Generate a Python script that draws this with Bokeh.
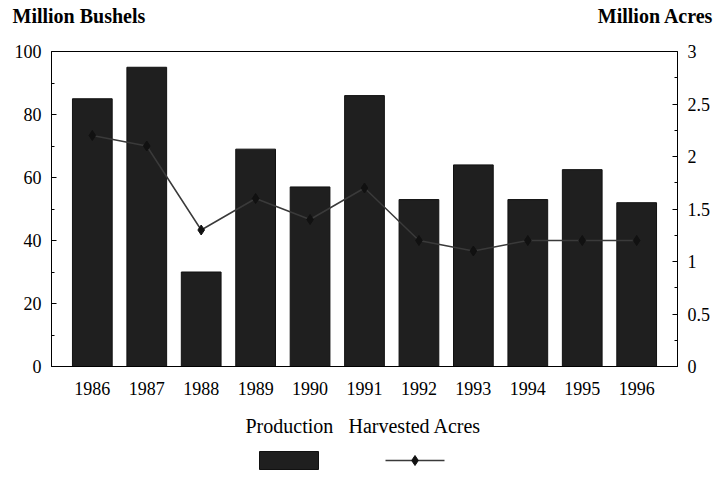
from bokeh.plotting import figure
from bokeh.models import (Range1d, LinearAxis, FixedTicker, ColumnDataSource)
from bokeh.layouts import column
from bokeh.embed import file_html
from bokeh.resources import INLINE
from bokeh.core.properties import value

years = [1986, 1987, 1988, 1989, 1990, 1991, 1992, 1993, 1994, 1995, 1996]
production = [85, 95, 30, 69, 57, 86, 53, 64, 53, 62.5, 52]          # million bushels
harvested_acres = [2.2, 2.1, 1.3, 1.6, 1.4, 1.7, 1.2, 1.1, 1.2, 1.2, 1.2]  # million acres

left_ticks = [0, 20, 40, 60, 80, 100]
left_minor = [10, 30, 50, 70, 90]
right_ticks = [0, 0.5, 1, 1.5, 2, 2.5, 3]
right_tick_labels = ["0", "0.5", "1", "1.5", "2", "2.5", "3"]
right_minor = [0.25, 0.75, 1.25, 1.75, 2.25, 2.75]
left_title = "Million Bushels"
right_title = "Million Acres"
legend_labels = ["Production", "Harvested Acres"]

FONT = "Liberation Serif"
BAR = "#1f1f1f"
LINE = "#3a3a3a"
W = 719

src = ColumnDataSource(dict(year=years, prod=production, acres=harvested_acres))

# header with the two axis titles
head = figure(width=W, height=30, output_backend="svg", toolbar_location=None,
              x_range=Range1d(0, W), y_range=Range1d(0, 30), min_border=0,
              frame_align=False)
head.axis.visible = False
head.grid.visible = False
head.outline_line_color = None
head.text(x=[12], y=[15], text=[left_title], text_font=value(FONT),
          text_font_size="20px", text_font_style="bold", text_align="left",
          text_baseline="middle", text_color="black")
head.text(x=[713], y=[15], text=[right_title], text_font=value(FONT),
          text_font_size="20px", text_font_style="bold", text_align="right",
          text_baseline="middle", text_color="black")

p = figure(width=W, height=378, output_backend="svg", toolbar_location=None,
           x_range=Range1d(1985.25, 1996.75), y_range=Range1d(0, 100),
           min_border_left=51, min_border_right=42, min_border_top=21, min_border_bottom=42)
p.background_fill_color = "white"
p.border_fill_color = "white"
p.outline_line_color = "black"
p.outline_line_width = 1
p.xgrid.visible = False
p.ygrid.visible = False

p.extra_y_ranges = {"acres": Range1d(0, 3)}

p.vbar(x="year", top="prod", width=0.73, bottom=0, source=src,
       fill_color=BAR, line_color="#111111")
p.line(x="year", y="acres", source=src, y_range_name="acres",
       line_color=LINE, line_width=1.5)
p.scatter(x="year", y="acres", source=src, y_range_name="acres",
          marker="diamond", size=10, fill_color="#111111", line_color="#111111")

xa = p.xaxis[0]
xa.ticker = FixedTicker(ticks=years)
xa.major_tick_line_color = None
xa.minor_tick_line_color = None
xa.major_label_text_font = FONT
xa.major_label_text_font_size = "18px"
xa.major_label_text_color = "black"
xa.major_label_standoff = 9
xa.axis_line_color = "black"

ya = p.yaxis[0]
ya.ticker = FixedTicker(ticks=left_ticks, minor_ticks=left_minor)
ya.major_tick_in = 5
ya.major_tick_out = 0
ya.minor_tick_in = 3
ya.minor_tick_out = 0
ya.major_label_text_font = FONT
ya.major_label_text_font_size = "18px"
ya.major_label_text_color = "black"
ya.major_label_standoff = 10
ya.axis_line_color = "black"

ra = LinearAxis(y_range_name="acres",
                ticker=FixedTicker(ticks=right_ticks, minor_ticks=right_minor))
ra.major_label_overrides = {t: l for t, l in zip(right_ticks, right_tick_labels)}
ra.major_tick_in = 5
ra.major_tick_out = 0
ra.minor_tick_in = 3
ra.minor_tick_out = 0
ra.major_label_text_font = FONT
ra.major_label_text_font_size = "18px"
ra.major_label_text_color = "black"
ra.major_label_standoff = 10
ra.axis_line_color = "black"
p.add_layout(ra, "right")

leg = figure(width=W, height=67, output_backend="svg", toolbar_location=None,
             x_range=Range1d(0, W), y_range=Range1d(0, 67), min_border=0,
             frame_align=False)
leg.axis.visible = False
leg.grid.visible = False
leg.outline_line_color = None

leg.text(x=[245, 348], y=[50, 50], text=legend_labels, text_font=value(FONT),
         text_font_size="20px", text_align="left", text_baseline="middle",
         text_color="black")
leg.rect(x=[288.5], y=[15], width=59, height=18, fill_color=BAR, line_color="#111111")
leg.line(x=[385, 444], y=[15, 15], line_color=LINE, line_width=1.5)
leg.scatter(x=[414.5], y=[15], marker="diamond", size=10,
            fill_color="#111111", line_color="#111111")

layout = column(head, p, leg, spacing=0)
open("out.html", "w").write(file_html(layout, INLINE))
